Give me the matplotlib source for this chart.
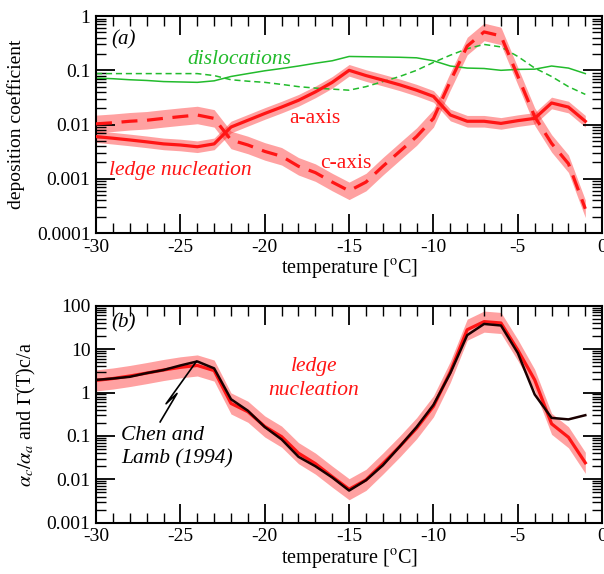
import numpy as np
import matplotlib
matplotlib.use("Agg")
import matplotlib.pyplot as plt
from matplotlib.ticker import MultipleLocator, LogLocator, FixedLocator, FixedFormatter, NullFormatter

plt.rcParams['font.family'] = ['Liberation Serif', 'DejaVu Serif']
plt.rcParams['mathtext.fontset'] = 'stix'

# --------------------------
# data
# --------------------------
temps = list(range(-30, 0))

# (a) ledge nucleation, a-axis (solid) and c-axis (dashed)
a_axis = [0.0060, 0.0056, 0.0052, 0.0048, 0.0044, 0.0042, 0.0039, 0.0044, 0.0090, 0.012,
          0.016, 0.021, 0.028, 0.040, 0.060, 0.10, 0.080, 0.066, 0.054, 0.043,
          0.033, 0.015, 0.0115, 0.0115, 0.0105, 0.0118, 0.013, 0.025, 0.021, 0.0115]
c_axis = [0.0103, 0.0108, 0.0115, 0.012, 0.013, 0.014, 0.015, 0.013, 0.0052, 0.0042,
          0.0032, 0.0026, 0.0017, 0.0013, 0.00087, 0.0006, 0.00087, 0.0017, 0.0032, 0.006,
          0.013, 0.063, 0.28, 0.51, 0.43, 0.078, 0.014, 0.0045, 0.0019, 0.00028]

# (a) dislocations, a-axis (solid) and c-axis (dashed)
disl_a = [0.072, 0.070, 0.067, 0.065, 0.062, 0.061, 0.060, 0.064, 0.077, 0.087,
          0.098, 0.108, 0.12, 0.135, 0.15, 0.18, 0.178, 0.176, 0.174, 0.17,
          0.15, 0.12, 0.11, 0.108, 0.10, 0.104, 0.105, 0.12, 0.11, 0.087]
disl_c = [0.087, 0.087, 0.087, 0.087, 0.087, 0.087, 0.087, 0.080, 0.067, 0.063,
          0.060, 0.055, 0.050, 0.047, 0.045, 0.043, 0.050, 0.062, 0.077, 0.10,
          0.14, 0.19, 0.25, 0.30, 0.27, 0.18, 0.11, 0.077, 0.050, 0.036]

# (b) ratio c/a from ledge nucleation and Gamma(T) from Chen and Lamb (1994)
ratio = [1.9, 2.1, 2.4, 2.8, 3.3, 3.8, 4.2, 3.2, 0.56, 0.36,
         0.165, 0.096, 0.040, 0.023, 0.0115, 0.0059, 0.0097, 0.023, 0.057, 0.15,
         0.48, 3.0, 28, 43, 40, 9.5, 1.95, 0.19, 0.093, 0.024]
chen_lamb = [1.95, 2.1, 2.3, 2.8, 3.3, 4.2, 5.2, 3.6, 0.70, 0.38,
             0.16, 0.083, 0.033, 0.020, 0.011, 0.0055, 0.0095, 0.021, 0.057, 0.16,
             0.52, 2.8, 21, 38, 35, 8.1, 0.90, 0.26, 0.24, 0.30]

red = '#ff1515'
green = '#22bb2c'

fig = plt.figure(figsize=(6.04, 5.74), dpi=100)
ax1 = fig.add_axes([0.159, 0.594, 0.838, 0.378])
ax2 = fig.add_axes([0.159, 0.0894, 0.838, 0.378])


def style_axis(ax, ymin, ymax):
    ax.set_yscale('log')
    ax.set_xlim(-30, 0)
    ax.set_ylim(ymin, ymax)
    ax.xaxis.set_major_locator(MultipleLocator(5))
    ax.xaxis.set_minor_locator(MultipleLocator(1))
    ax.yaxis.set_minor_locator(LogLocator(base=10, subs=np.arange(2, 10), numticks=10))
    ax.yaxis.set_minor_formatter(NullFormatter())
    ax.tick_params(which='both', direction='in', top=True, right=True, labelsize=14, pad=4)
    ax.tick_params(which='major', length=14, width=1.3)
    ax.tick_params(which='minor', length=7, width=1.0)
    for s in ax.spines.values():
        s.set_linewidth(1.5)
    ax.set_xticks([-30, -25, -20, -15, -10, -5, 0])
    ax.set_xticklabels(['-30', '-25', '-20', '-15', '-10', '-5', '0'])
    ax.set_xlabel(r'temperature [$^{\mathrm{o}}$C]', fontsize=14.5)
    ax.xaxis.set_label_coords(0.5, -0.115)


# --- panel (a)
style_axis(ax1, 1e-4, 1)
ax1.yaxis.set_major_locator(FixedLocator([1e-4, 1e-3, 1e-2, 1e-1, 1]))
ax1.yaxis.set_major_formatter(FixedFormatter(['0.0001', '0.001', '0.01', '0.1', '1']))

a_arr = np.array(a_axis)
c_arr = np.array(c_axis)
ax1.fill_between(temps, a_arr / 1.28, a_arr * 1.28, color=red, alpha=0.4, lw=0, zorder=1)
ax1.fill_between(temps, c_arr / 1.45, c_arr * 1.45, color=red, alpha=0.4, lw=0, zorder=1)
ax1.plot(temps, disl_a, color=green, lw=1.1, zorder=2)
ax1.plot(temps, disl_c, color=green, lw=1.1, ls=(0, (4, 2.5)), zorder=2)
ax1.plot(temps, a_axis, color=red, lw=2.3, zorder=3)
ax1.plot(temps, c_axis, color=red, lw=2.3, ls=(0, (5, 3)), zorder=3)

ax1.text(-29.1, 0.37, '(a)', fontsize=15, style='italic', va='center')
ax1.text(-24.6, 0.16, 'dislocations', fontsize=15.5, style='italic', color=green, va='center')
ax1.text(-17.05, 0.013, 'a-axis', fontsize=15.5, color=red, ha='center', va='center')
ax1.text(-15.2, 0.0019, 'c-axis', fontsize=15.5, color=red, ha='center', va='center')
ax1.text(-25.0, 0.00145, 'ledge nucleation', fontsize=15.5, style='italic', color=red,
         ha='center', va='center')
ax1.set_ylabel('deposition coefficient', fontsize=14)
ax1.yaxis.set_label_coords(-0.14, 0.5)

# --- panel (b)
style_axis(ax2, 1e-3, 100)
ax2.yaxis.set_major_locator(FixedLocator([1e-3, 1e-2, 1e-1, 1, 10, 100]))
ax2.yaxis.set_major_formatter(FixedFormatter(['0.001', '0.01', '0.1', '1', '10', '100']))

r_arr = np.array(ratio)
ax2.fill_between(temps, r_arr / 1.75, r_arr * 1.75, color=red, alpha=0.4, lw=0, zorder=1)
ax2.plot(temps, ratio, color=red, lw=2.3, zorder=2)
ax2.plot(temps, chen_lamb, color='#1a0000', lw=1.8, zorder=3)

# lightning-bolt pointer from the label to the curve
bolt_x = [-26.2, -25.2, -25.85, -24.05]
bolt_y = [0.21, 0.95, 0.55, 5.2]
ax2.plot(bolt_x, bolt_y, color='black', lw=1.2, zorder=4)

ax2.text(-29.1, 40, '(b)', fontsize=15, style='italic', va='center')
ax2.text(-17.1, 2.1, 'ledge\nnucleation', fontsize=15.5, style='italic', color=red,
         ha='center', va='center', linespacing=1.35)
ax2.text(-28.5, 0.055, 'Chen and\nLamb (1994)', fontsize=15.5, style='italic',
         ha='left', va='center', linespacing=1.3)
ax2.set_ylabel(r'$\alpha_c/\alpha_a$ and $\Gamma$(T)c/a', fontsize=14.5)
ax2.yaxis.set_label_coords(-0.115, 0.5)

fig.savefig('out.png', dpi=100)
